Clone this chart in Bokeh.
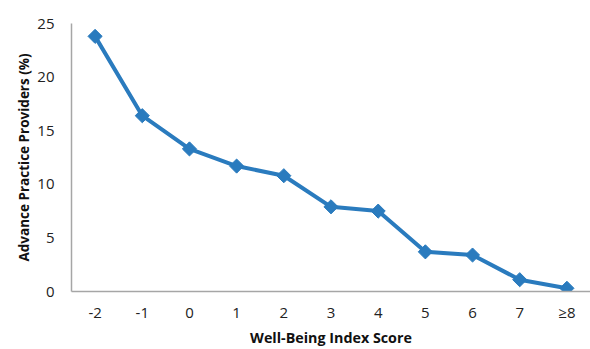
import math
from bokeh.plotting import figure
from bokeh.models import Range1d, FactorRange
from bokeh.embed import file_html
from bokeh.resources import INLINE

categories = ["-2", "-1", "0", "1", "2", "3", "4", "5", "6", "7", "≥8"]
values = [23.8, 16.4, 13.3, 11.7, 10.8, 7.9, 7.5, 3.7, 3.4, 1.1, 0.3]
y_ticks = [0, 5, 10, 15, 20, 25]

BLUE = "#2A7BBE"
FONT = "Open Sans"

p = figure(width=590, height=349, x_range=FactorRange(*categories),
           y_range=Range1d(0, 25), output_backend="svg", toolbar_location=None,
           min_border_left=71, min_border_right=0, min_border_top=23, min_border_bottom=0)
p.outline_line_color = None
p.xgrid.grid_line_color = None
p.ygrid.grid_line_color = None
p.background_fill_color = "white"
p.border_fill_color = "white"

p.line(categories, values, line_color=BLUE, line_width=4)
p.scatter(categories, values, marker="square", size=10, angle=math.pi / 4,
          fill_color=BLUE, line_color=BLUE)

p.yaxis.ticker = y_ticks
for ax in (p.xaxis, p.yaxis):
    ax.axis_line_color = "#A6A6A6"
    ax.axis_line_width = 1.5
    ax.major_tick_line_color = None
    ax.minor_tick_line_color = None
    ax.major_label_text_font = FONT
    ax.major_label_text_font_size = "15px"
    ax.major_label_text_color = "#222222"
    ax.axis_label_text_font = FONT
    ax.axis_label_text_font_style = "bold"
    ax.axis_label_text_color = "#111111"

p.yaxis.axis_label_text_font_size = "13.5px"
p.xaxis.axis_label_text_font_size = "14.3px"
p.yaxis.axis_label = "Advance Practice Providers (%)"
p.xaxis.axis_label = "Well-Being Index Score"
p.yaxis.major_label_standoff = 11
p.xaxis.major_label_standoff = 4
p.yaxis.axis_label_standoff = 1
p.xaxis.axis_label_standoff = 3

open("out.html", "w").write(file_html(p, INLINE))
